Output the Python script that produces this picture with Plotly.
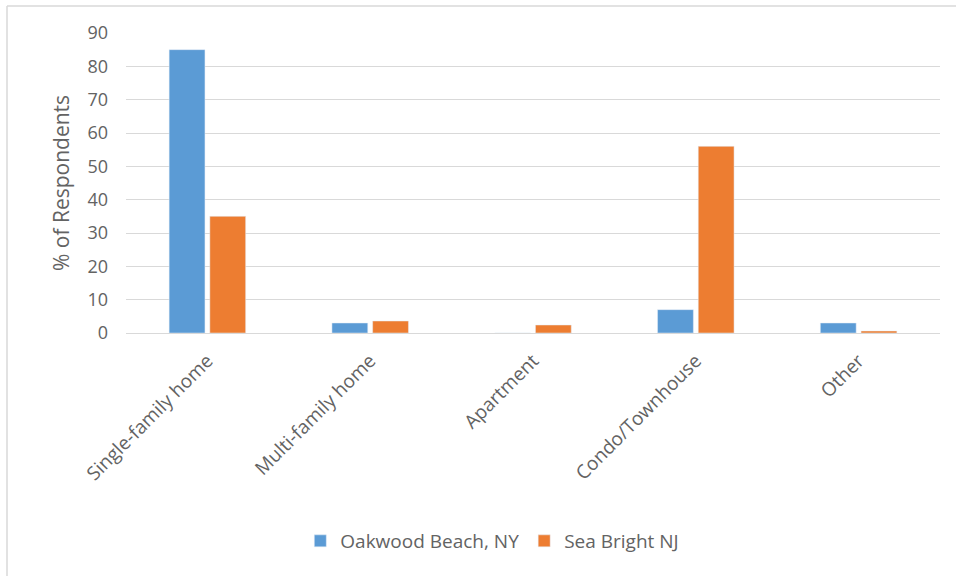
import plotly.graph_objects as go

categories = ["Single-family home", "Multi-family home", "Apartment", "Condo/Townhouse", "Other"]
oakwood = [85, 3, 0, 7, 3]
seabright = [35, 3.6, 2.4, 56, 0.6]
series_names = ["Oakwood Beach, NY", "Sea Bright NJ"]
y_ticks = [0, 10, 20, 30, 40, 50, 60, 70, 80, 90]

FONT = "Open Sans, Liberation Sans, sans-serif"
GRAY = "#636363"

fig = go.Figure()
fig.add_trace(go.Bar(x=categories, y=oakwood, name=series_names[0], marker_color="#5B9BD5"))
fig.add_trace(go.Bar(x=categories, y=seabright, name=series_names[1], marker_color="#ED7D31"))

L, R, T, B = 126, 16, 33, 243
W, H = 956, 576
pw, ph = W - L - R, H - T - B

def px(x):
    return (x - L) / pw

def py(y):
    return (H - B - y) / ph

border = dict(color="#d9d9d9", width=1.5)
fig.update_layout(
    width=W, height=H,
    margin=dict(l=L, r=R, t=T, b=B),
    paper_bgcolor="white", plot_bgcolor="white",
    barmode="group", bargap=0.5, bargroupgap=0.12,
    font=dict(family=FONT, color=GRAY, size=16),
    legend=dict(orientation="h", x=0.45, xanchor="center", y=py(541), yanchor="middle",
                font=dict(size=19, color=GRAY), itemwidth=30),
    shapes=[
        dict(type="line", xref="paper", yref="paper", x0=px(7), x1=px(956), y0=py(6), y1=py(6), line=border),
        dict(type="line", xref="paper", yref="paper", x0=px(7), x1=px(7), y0=py(6), y1=py(576), line=border),
    ],
)
fig.update_xaxes(tickangle=-45, tickfont=dict(size=19, color=GRAY), showgrid=False,
                 showline=False, ticks="", ticklabelstandoff=12)
fig.update_yaxes(range=[0, 90], tickvals=y_ticks, showgrid=True, gridcolor="#d9d9d9", gridwidth=1,
                 zeroline=True, zerolinecolor="#d9d9d9", zerolinewidth=1,
                 tickfont=dict(size=18, color=GRAY), ticks="", ticklen=0, ticklabelstandoff=17,
                 title=dict(text="% of Respondents", font=dict(size=21, color=GRAY), standoff=12))

fig.write_html("out.html")
